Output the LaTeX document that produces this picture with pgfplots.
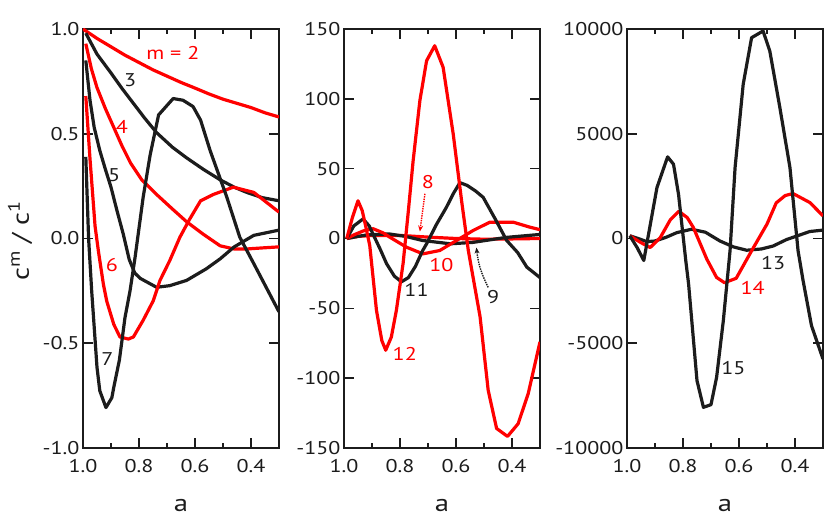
\documentclass[border=0pt]{standalone}
\usepackage{fontspec}
\setmainfont{PT Sans}[FakeStretch=1.2]
\usepackage{pgfplots}
\pgfplotsset{compat=1.18}
\usetikzlibrary{arrows.meta}
\definecolor{cred}{RGB}{255,0,0}
\definecolor{cblk}{RGB}{28,28,28}
\newcommand{\curvefont}{\fontsize{18.5}{20}\selectfont}
\pgfplotsset{
 panel/.style={
  scale only axis, width=196bp, height=419bp, anchor=south west,
  x dir=reverse, xmin=0.3, xmax=1.0,
  xtick={0.4,0.6,0.8,1.0}, xticklabels={0.4,0.6,0.8,1.0},
  minor xtick={0.5,0.7,0.9},
  scaled y ticks=false, scaled x ticks=false,
  tick align=inside,
  major tick length=10bp, minor tick length=5bp,
  axis line style={line width=1.8bp, cblk},
  tick style={line width=1.6bp, cblk},
  tick label style={font=\fontsize{18.5}{20}\selectfont, text=cblk},
  xticklabel style={yshift=-8bp},
 },
 r/.style={cred, line width=3.2bp, line join=round, mark=none},
 k/.style={cblk, line width=3.2bp, line join=round, mark=none},
}
\begin{document}
\begin{tikzpicture}
\path[use as bounding box] (0,0) rectangle (830bp,518bp);
% ---------------- panel 1 ----------------
\begin{axis}[panel, at={(83bp,70bp)}, ymin=-1, ymax=1,
  ytick={-1,-0.5,0,0.5,1}, yticklabels={-1.0,-0.5,0.0,0.5,1.0}]
\addplot[r] coordinates {(1.0,1.0) (0.95,0.955) (0.9,0.915) (0.85,0.875) (0.8,0.84) (0.75,0.805) (0.7,0.775) (0.65,0.745) (0.6,0.718) (0.55,0.69) (0.5,0.665) (0.45,0.645) (0.4,0.625) (0.35,0.60) (0.3,0.58)};
\addplot[k] coordinates {(0.99,0.98) (0.95,0.88) (0.9,0.79) (0.86,0.715) (0.82,0.645) (0.78,0.575) (0.737,0.505) (0.68,0.435) (0.63,0.385) (0.57,0.33) (0.51,0.28) (0.46,0.245) (0.415,0.22) (0.36,0.195) (0.3,0.18)};
\addplot[r] coordinates {(0.99,0.93) (0.97,0.81) (0.95,0.72) (0.92,0.62) (0.89,0.53) (0.86,0.44) (0.83,0.36) (0.79,0.28) (0.737,0.21) (0.68,0.14) (0.63,0.08) (0.57,0.02) (0.51,-0.035) (0.46,-0.05) (0.415,-0.05) (0.36,-0.045) (0.3,-0.04)};
\addplot[k] coordinates {(0.99,0.85) (0.975,0.66) (0.96,0.53) (0.94,0.42) (0.92,0.33) (0.90,0.245) (0.88,0.14) (0.856,0.02) (0.835,-0.10) (0.815,-0.165) (0.796,-0.19) (0.737,-0.233) (0.69,-0.225) (0.63,-0.20) (0.56,-0.145) (0.51,-0.097) (0.46,-0.04) (0.39,0.015) (0.3,0.04)};
\addplot[r] coordinates {(0.99,0.68) (0.975,0.38) (0.957,0.06) (0.945,-0.06) (0.927,-0.22) (0.915,-0.30) (0.89,-0.41) (0.868,-0.47) (0.838,-0.48) (0.82,-0.47) (0.785,-0.39) (0.749,-0.297) (0.725,-0.20) (0.69,-0.105) (0.654,0.006) (0.62,0.09) (0.58,0.18) (0.535,0.21) (0.463,0.245) (0.39,0.22) (0.3,0.126)};
\addplot[k] coordinates {(0.99,0.39) (0.98,0.0) (0.969,-0.25) (0.95,-0.615) (0.94,-0.727) (0.918,-0.807) (0.897,-0.76) (0.89,-0.71) (0.87,-0.58) (0.85,-0.377) (0.832,-0.25) (0.814,-0.09) (0.785,0.198) (0.76,0.40) (0.73,0.59) (0.678,0.668) (0.643,0.66) (0.607,0.63) (0.58,0.565) (0.546,0.42) (0.487,0.20) (0.44,0.006) (0.39,-0.12) (0.3,-0.35)};
\node[text=cred, font=\curvefont] at (axis cs:0.679,0.885) {m = 2};
\node[text=cblk, font=\curvefont] at (axis cs:0.832,0.756) {3};
\node[text=cred, font=\curvefont] at (axis cs:0.861,0.531) {4};
\node[text=cblk, font=\curvefont] at (axis cs:0.889,0.30) {5};
\node[text=cred, font=\curvefont] at (axis cs:0.897,-0.129) {6};
\node[text=cblk, font=\curvefont] at (axis cs:0.913,-0.576) {7};
\end{axis}
% ---------------- panel 2 ----------------
\begin{axis}[panel, at={(344bp,70bp)}, ymin=-150, ymax=150,
  ytick={-150,-100,-50,0,50,100,150}, yticklabels={-150,-100,-50,0,50,100,150}]
\addplot[r] coordinates {(0.99,0) (0.95,1.5) (0.9,2.2) (0.8,2.2) (0.7,1) (0.6,0) (0.5,-0.5) (0.4,-0.3) (0.3,0)};
\addplot[k] coordinates {(0.99,0) (0.95,1.5) (0.92,2.5) (0.84,3.3) (0.78,1.5) (0.72,-1.4) (0.62,-3.8) (0.54,-2.8) (0.42,0.8) (0.3,2.9)};
\addplot[r] coordinates {(0.99,0) (0.96,3) (0.93,5.5) (0.896,7) (0.86,4) (0.837,1) (0.777,-6.2) (0.718,-11) (0.658,-8.6) (0.598,-1.4) (0.539,5.7) (0.479,11.7) (0.396,11.7) (0.336,8.1) (0.3,6.3)};
\addplot[k] coordinates {(0.99,0) (0.965,9) (0.932,14) (0.91,9) (0.896,3) (0.87,-8) (0.848,-18) (0.82,-27) (0.795,-31) (0.77,-28) (0.745,-20) (0.72,-9) (0.705,-3.8) (0.67,10) (0.634,22.4) (0.61,32) (0.586,40) (0.56,38) (0.53,34) (0.503,29.5) (0.46,14) (0.419,-1.4) (0.38,-10) (0.347,-20.5) (0.3,-28)};
\addplot[r] coordinates {(0.99,0) (0.97,15) (0.95,27) (0.935,20) (0.926,12) (0.908,-5) (0.884,-51.5) (0.865,-73) (0.851,-80) (0.831,-70.6) (0.813,-51.5) (0.789,-18) (0.77,20) (0.753,55.8) (0.729,98.7) (0.705,127.3) (0.676,138) (0.646,122.6) (0.61,74.9) (0.58,27) (0.556,-8.6) (0.514,-56) (0.485,-108.7) (0.455,-136) (0.416,-141.7) (0.378,-132.6) (0.342,-111) (0.3,-74)};
\node[text=cred, font=\curvefont] at (axis cs:0.70,40.3) {8};
\draw[cred, densely dotted, line width=1.4bp, -{Stealth[length=6bp,width=5bp]}] (axis cs:0.711,32) -- (axis cs:0.729,5);
\node[text=cblk, font=\curvefont] at (axis cs:0.467,-42) {9};
\draw[cblk, densely dotted, line width=1.4bp, -{Stealth[length=6bp,width=5bp]}] (axis cs:0.485,-35) to[bend left=10] (axis cs:0.527,-6.5);
\node[text=cred, font=\curvefont] at (axis cs:0.652,-19.3) {10};
\node[text=cblk, font=\curvefont] at (axis cs:0.741,-36.5) {11};
\node[text=cred, font=\curvefont] at (axis cs:0.783,-83) {12};
\end{axis}
% ---------------- panel 3 ----------------
\begin{axis}[panel, at={(627bp,70bp)}, ymin=-10000, ymax=10000,
  ytick={-10000,-5000,0,5000,10000}, yticklabels={-10000,-5000,0,5000,10000}]
\addplot[k] coordinates {(0.99,130) (0.96,0) (0.929,-150) (0.9,-120) (0.86,60) (0.822,280) (0.77,440) (0.72,300) (0.668,-119) (0.62,-400) (0.573,-560) (0.52,-500) (0.478,-358) (0.43,-50) (0.383,167) (0.347,334) (0.3,400)};
\addplot[r] coordinates {(0.99,130) (0.95,-200) (0.917,-429) (0.881,48) (0.845,900) (0.815,1300) (0.785,1000) (0.763,525) (0.715,-983) (0.68,-1860) (0.652,-2110) (0.61,-1900) (0.555,-587) (0.5,687) (0.467,1700) (0.435,2050) (0.407,2146) (0.347,1717) (0.3,1083)};
\addplot[k] coordinates {(0.99,129) (0.964,-429) (0.94,-1050) (0.915,800) (0.893,2432) (0.855,3896) (0.834,3548) (0.816,2117) (0.79,-1063) (0.78,-2175) (0.75,-6786) (0.727,-8059) (0.70,-7931) (0.68,-6629) (0.656,-3925) (0.632,-587) (0.614,3386) (0.585,7363) (0.555,9586) (0.514,9905) (0.49,8951) (0.454,6247) (0.418,3386) (0.389,-587) (0.371,-2017) (0.341,-4163) (0.3,-5751)};
\node[text=cblk, font=\curvefont] at (axis cs:0.478,-1154) {13};
\node[text=cred, font=\curvefont] at (axis cs:0.551,-2347) {14};
\node[text=cblk, font=\curvefont] at (axis cs:0.62,-6163) {15};
\end{axis}
% ---------------- axis titles ----------------
\node[rotate=90, font=\fontsize{24}{26}\selectfont, text=cblk] at (20bp,277bp) {c\textsuperscript{m} / c\textsuperscript{1}};
\node[font=\fontsize{24}{26}\selectfont, text=cblk] at (181bp,12bp) {a};
\node[font=\fontsize{24}{26}\selectfont, text=cblk] at (442bp,12bp) {a};
\node[font=\fontsize{24}{26}\selectfont, text=cblk] at (725bp,12bp) {a};
\end{tikzpicture}
\end{document}
